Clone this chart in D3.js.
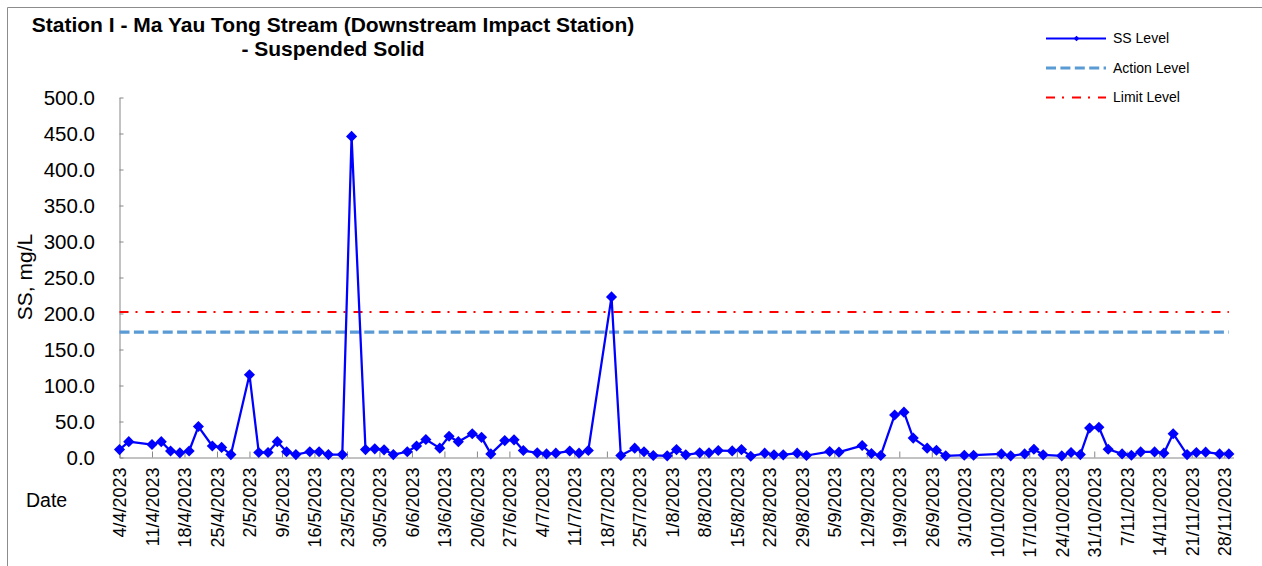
<!DOCTYPE html>
<html>
<head>
<meta charset="utf-8">
<script src="https://cdn.jsdelivr.net/npm/d3@7"></script>
<style>
  html, body { margin: 0; padding: 0; background: #fff; }
  svg { display: block; font-family: "Liberation Sans", Arial, sans-serif; }
</style>
</head>
<body>
<svg id="chart" width="1262" height="566"></svg>
<script>
// Sampling dates (Station I, 2023) and suspended solid readings, mg/L
const sampleDates = [
  "2023-04-04","2023-04-06","2023-04-11","2023-04-13","2023-04-15","2023-04-17","2023-04-19","2023-04-21",
  "2023-04-24","2023-04-26","2023-04-28","2023-05-02","2023-05-04","2023-05-06","2023-05-08","2023-05-10",
  "2023-05-12","2023-05-15","2023-05-17","2023-05-19","2023-05-22","2023-05-24","2023-05-27","2023-05-29",
  "2023-05-31","2023-06-02","2023-06-05","2023-06-07","2023-06-09","2023-06-12","2023-06-14","2023-06-16",
  "2023-06-19","2023-06-21","2023-06-23","2023-06-26","2023-06-28","2023-06-30","2023-07-03","2023-07-05",
  "2023-07-07","2023-07-10","2023-07-12","2023-07-14","2023-07-19","2023-07-21","2023-07-24","2023-07-26",
  "2023-07-28","2023-07-31","2023-08-02","2023-08-04","2023-08-07","2023-08-09","2023-08-11","2023-08-14",
  "2023-08-16","2023-08-18","2023-08-21","2023-08-23","2023-08-25","2023-08-28","2023-08-30","2023-09-04",
  "2023-09-06","2023-09-11","2023-09-13","2023-09-15","2023-09-18","2023-09-20","2023-09-22","2023-09-25",
  "2023-09-27","2023-09-29","2023-10-03","2023-10-05","2023-10-11","2023-10-13","2023-10-16","2023-10-18",
  "2023-10-20","2023-10-24","2023-10-26","2023-10-28","2023-10-30","2023-11-01","2023-11-03","2023-11-06",
  "2023-11-08","2023-11-10","2023-11-13","2023-11-15","2023-11-17","2023-11-20","2023-11-22","2023-11-24",
  "2023-11-27","2023-11-29"
];
const ssLevel = [
  11, 22, 18, 22, 9, 6.5, 9, 43,
  16, 14, 4, 115, 7, 7, 22, 8,
  4, 8, 8, 4, 4, 446, 11, 12,
  10.6, 4, 8, 16, 25, 13, 29.5, 22,
  33, 28, 5, 23.5, 24.5, 9.7, 6.5, 5,
  6, 9, 6, 9.7, 223, 2.8, 13, 8,
  2.8, 2.3, 11, 3.7, 6.5, 6.5, 9.7, 9.2,
  11, 1.8, 6, 3.7, 3.7, 6, 2.8, 8.3,
  7.4, 16.6, 5.5, 2.8, 59, 63, 27, 13,
  10, 2.3, 3.2, 3.2, 5, 2.3, 5, 11.5,
  3.7, 2.3, 7, 4, 41, 42, 11.5, 5,
  3.2, 7.8, 7.8, 6, 33, 4, 7, 7.4,
  5, 5
];
const actionLevel = 174;
const limitLevel = 202;
const axisStart = "2023-04-04";
const axisEnd = "2023-11-30";
const yTicks = [0, 50, 100, 150, 200, 250, 300, 350, 400, 450, 500];
const titleLines = ["Station I - Ma Yau Tong Stream (Downstream Impact Station)", "- Suspended Solid"];
const legendLabels = ["SS Level", "Action Level", "Limit Level"];

const parse = d3.utcParse("%Y-%m-%d");
const fmt = d3.utcFormat("%-d/%-m/%Y");
const points = sampleDates.map((d, i) => ({ date: parse(d), value: ssLevel[i] }));

const svg = d3.select("#chart");
const FONT = '"Liberation Sans", Arial, sans-serif';
const AXIS_COLOR = "#868686";
const SS_COLOR = "#0000ff";
const ACTION_COLOR = "#5b9bd5";
const LIMIT_COLOR = "#ff0000";

svg.append("rect").attr("width", 1262).attr("height", 566).attr("fill", "#fff");

// chart frame (left and top edges)
svg.append("path")
  .attr("d", "M7.5,566V7.5H1262")
  .attr("fill", "none").attr("stroke", "#8c8c8c").attr("stroke-width", 1);

const x = d3.scaleUtc().domain([parse(axisStart), parse(axisEnd)]).range([119.5, 1233.5]);
const y = d3.scaleLinear().domain([0, 500]).range([457.5, 97.5]);

// title
svg.append("g").selectAll("text").data(titleLines).join("text")
  .attr("x", 333).attr("y", (d, i) => 32 + i * 24)
  .attr("text-anchor", "middle")
  .attr("font-weight", "bold").attr("font-size", 21).attr("fill", "#000")
  .text(d => d);

// y axis
const yAxis = svg.append("g").attr("transform", "translate(119.5,0)")
  .call(d3.axisLeft(y).tickValues(yTicks).tickFormat(d3.format(".1f")).tickSizeInner(-4).tickSizeOuter(0).tickPadding(24.5));
yAxis.select(".domain").attr("stroke", AXIS_COLOR);
yAxis.selectAll(".tick line").attr("stroke", AXIS_COLOR);
yAxis.selectAll(".tick text").attr("font-family", FONT).attr("font-size", 20.5).attr("fill", "#000");

// x axis, weekly ticks on Tuesdays
const xTicks = d3.utcTuesday.range(parse(axisStart), d3.utcDay.offset(parse(axisEnd), 1));
const xAxis = svg.append("g").attr("transform", "translate(0,457.5)")
  .call(d3.axisBottom(x).tickValues(xTicks).tickFormat(fmt).tickSizeInner(-6).tickSizeOuter(0));
xAxis.select(".domain").attr("stroke", AXIS_COLOR);
xAxis.selectAll(".tick line").attr("stroke", AXIS_COLOR);
xAxis.selectAll(".tick text")
  .attr("font-family", FONT).attr("font-size", 18).attr("fill", "#000")
  .attr("text-anchor", "end")
  .attr("transform", "rotate(-90)")
  .attr("x", -10).attr("y", 0).attr("dy", "0.36em");

// axis titles
svg.append("text")
  .attr("transform", "translate(32,277) rotate(-90)")
  .attr("text-anchor", "middle")
  .attr("font-family", FONT).attr("font-size", 21).attr("fill", "#000")
  .text("SS, mg/L");
svg.append("text")
  .attr("x", 26).attr("y", 507)
  .attr("font-family", FONT).attr("font-size", 19.5).attr("fill", "#000")
  .text("Date");

// reference levels across the sampling period
const first = points[0].date, last = points[points.length - 1].date;
svg.append("line")
  .attr("x1", x(first)).attr("x2", x(last)).attr("y1", y(actionLevel)).attr("y2", y(actionLevel))
  .attr("stroke", ACTION_COLOR).attr("stroke-width", 3.2).attr("stroke-dasharray", "10,4.4");
svg.append("line")
  .attr("x1", x(first)).attr("x2", x(last)).attr("y1", y(limitLevel)).attr("y2", y(limitLevel))
  .attr("stroke", LIMIT_COLOR).attr("stroke-width", 2).attr("stroke-dasharray", "9,7,2,8");

// SS series
const line = d3.line().x(d => x(d.date)).y(d => y(d.value));
svg.append("path").datum(points)
  .attr("d", line).attr("fill", "none")
  .attr("stroke", SS_COLOR).attr("stroke-width", 2.25).attr("stroke-linejoin", "round");
const diamond = d3.symbol(d3.symbolSquare, 62);
svg.append("g").selectAll("path").data(points).join("path")
  .attr("d", diamond)
  .attr("transform", d => `translate(${x(d.date)},${y(d.value)}) rotate(45)`)
  .attr("fill", SS_COLOR);

// legend
const legend = svg.append("g").attr("font-family", FONT).attr("font-size", 14);
const legendY = [38.5, 68, 97.5];
legend.append("line").attr("x1", 1046).attr("x2", 1106).attr("y1", legendY[0]).attr("y2", legendY[0])
  .attr("stroke", SS_COLOR).attr("stroke-width", 2);
legend.append("path").attr("d", d3.symbol(d3.symbolSquare, 16))
  .attr("transform", `translate(1076.5,${legendY[0]}) rotate(45)`).attr("fill", SS_COLOR);
legend.append("line").attr("x1", 1046).attr("x2", 1106).attr("y1", legendY[1]).attr("y2", legendY[1])
  .attr("stroke", ACTION_COLOR).attr("stroke-width", 3.2).attr("stroke-dasharray", "10,4.4");
legend.append("line").attr("x1", 1046).attr("x2", 1106).attr("y1", legendY[2]).attr("y2", legendY[2])
  .attr("stroke", LIMIT_COLOR).attr("stroke-width", 2).attr("stroke-dasharray", "9,7,2,8");
legend.selectAll("text").data(legendLabels).join("text")
  .attr("x", 1113).attr("y", (d, i) => legendY[i]).attr("dy", "0.35em")
  .attr("fill", "#000")
  .text(d => d);
</script>
</body>
</html>
